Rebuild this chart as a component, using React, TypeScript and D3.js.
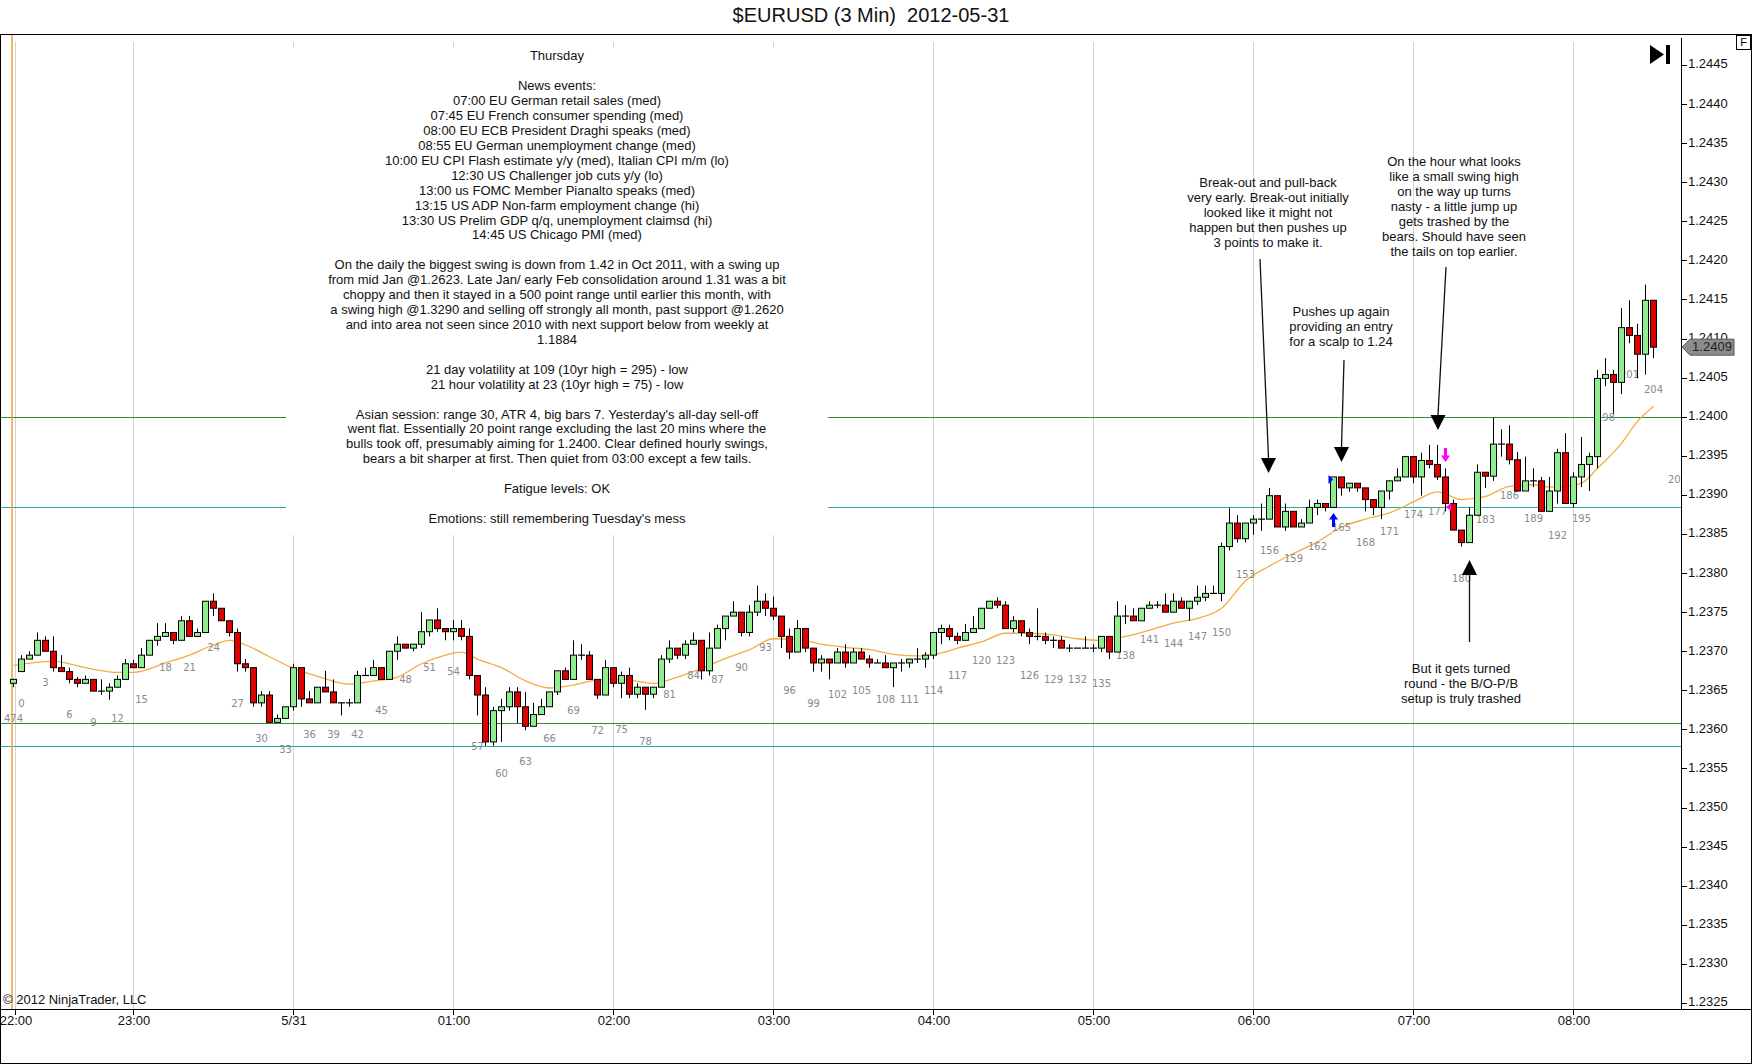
import * as d3 from 'd3';

// bar numbers as printed under the candles (first one is the last bar of the previous session)
const barNumbers = [474, ...d3.range(0, 205)];

const opens = [
  1.23659,
  1.23674, 1.23690, 1.23695, 1.23714, 1.23700, 1.23679, 1.23674, 1.23664, 1.23659, 1.23664,
  1.23649, 1.23649, 1.23654, 1.23664, 1.23684, 1.23679, 1.23695, 1.23714, 1.23719, 1.23724,
  1.23714, 1.23739, 1.23719, 1.23724, 1.23764, 1.23755, 1.23739, 1.23724, 1.23684, 1.23679,
  1.23634, 1.23644, 1.23609, 1.23614, 1.23629, 1.23679, 1.23639, 1.23634, 1.23654, 1.23648,
  1.23634, 1.23634, 1.23634, 1.23669, 1.23669, 1.23679, 1.23664, 1.23700, 1.23709, 1.23704,
  1.23709, 1.23725, 1.23740, 1.23729, 1.23725, 1.23729, 1.23719, 1.23669, 1.23644, 1.23584,
  1.23624, 1.23629, 1.23648, 1.23629, 1.23604, 1.23619, 1.23629, 1.23648, 1.23675, 1.23664,
  1.23695, 1.23695, 1.23664, 1.23644, 1.23679, 1.23659, 1.23669, 1.23645, 1.23654, 1.23645,
  1.23654, 1.23690, 1.23704, 1.23695, 1.23709, 1.23714, 1.23675, 1.23704, 1.23729, 1.23745,
  1.23750, 1.23724, 1.23750, 1.23764, 1.23755, 1.23745, 1.23719, 1.23699, 1.23729, 1.23704,
  1.23685, 1.23690, 1.23685, 1.23699, 1.23685, 1.23699, 1.23690, 1.23685, 1.23685, 1.23679,
  1.23685, 1.23685, 1.23690, 1.23690, 1.23695, 1.23724, 1.23729, 1.23719, 1.23714, 1.23724,
  1.23729, 1.23755, 1.23764, 1.23759, 1.23729, 1.23739, 1.23724, 1.23719, 1.23719, 1.23714,
  1.23714, 1.23704, 1.23704, 1.23704, 1.23704, 1.23704, 1.23719, 1.23699, 1.23745, 1.23745,
  1.23739, 1.23755, 1.23759, 1.23759, 1.23750, 1.23764, 1.23755, 1.23764, 1.23769, 1.23774,
  1.23774, 1.23834, 1.23864, 1.23844, 1.23864, 1.23869, 1.23869, 1.23899, 1.23859, 1.23879,
  1.23859, 1.23864, 1.23884, 1.23889, 1.23884, 1.23923, 1.23909, 1.23915, 1.23909, 1.23894,
  1.23884, 1.23905, 1.23918, 1.23923, 1.23949, 1.23923, 1.23944, 1.23939, 1.23923, 1.23889,
  1.23855, 1.23839, 1.23874, 1.23929, 1.23924, 1.23965, 1.23965, 1.23945, 1.23905, 1.23918,
  1.23918, 1.23879, 1.23905, 1.23954, 1.23889, 1.23923, 1.23939, 1.23949, 1.24049, 1.24054,
  1.24044, 1.24114, 1.24104, 1.24080, 1.24149,
];

const highs = [
  1.23665,
  1.23695, 1.23700, 1.23724, 1.23719, 1.23719, 1.23695, 1.23679, 1.23667, 1.23669, 1.23664,
  1.23664, 1.23659, 1.23669, 1.23690, 1.23689, 1.23704, 1.23714, 1.23736, 1.23736, 1.23724,
  1.23745, 1.23745, 1.23729, 1.23764, 1.23774, 1.23755, 1.23739, 1.23729, 1.23690, 1.23679,
  1.23649, 1.23649, 1.23619, 1.23629, 1.23684, 1.23679, 1.23649, 1.23654, 1.23675, 1.23664,
  1.23634, 1.23639, 1.23675, 1.23679, 1.23689, 1.23679, 1.23700, 1.23719, 1.23709, 1.23709,
  1.23750, 1.23740, 1.23755, 1.23729, 1.23740, 1.23740, 1.23729, 1.23669, 1.23654, 1.23629,
  1.23639, 1.23654, 1.23654, 1.23648, 1.23634, 1.23639, 1.23648, 1.23675, 1.23679, 1.23714,
  1.23709, 1.23700, 1.23664, 1.23689, 1.23679, 1.23674, 1.23679, 1.23659, 1.23654, 1.23654,
  1.23695, 1.23714, 1.23704, 1.23714, 1.23724, 1.23714, 1.23724, 1.23734, 1.23745, 1.23764,
  1.23750, 1.23759, 1.23784, 1.23774, 1.23770, 1.23745, 1.23729, 1.23740, 1.23729, 1.23704,
  1.23695, 1.23690, 1.23704, 1.23709, 1.23704, 1.23704, 1.23695, 1.23690, 1.23695, 1.23685,
  1.23690, 1.23690, 1.23704, 1.23699, 1.23724, 1.23734, 1.23734, 1.23724, 1.23735, 1.23745,
  1.23755, 1.23764, 1.23769, 1.23764, 1.23745, 1.23739, 1.23729, 1.23755, 1.23724, 1.23719,
  1.23719, 1.23709, 1.23704, 1.23719, 1.23709, 1.23719, 1.23719, 1.23764, 1.23759, 1.23755,
  1.23755, 1.23764, 1.23764, 1.23774, 1.23774, 1.23769, 1.23764, 1.23784, 1.23784, 1.23784,
  1.23839, 1.23883, 1.23874, 1.23864, 1.23874, 1.23889, 1.23909, 1.23899, 1.23889, 1.23879,
  1.23869, 1.23894, 1.23894, 1.23889, 1.23923, 1.23923, 1.23915, 1.23915, 1.23909, 1.23894,
  1.23905, 1.23918, 1.23934, 1.23949, 1.23949, 1.23954, 1.23964, 1.23964, 1.23934, 1.23894,
  1.23855, 1.23884, 1.23939, 1.23929, 1.23999, 1.23984, 1.23989, 1.23955, 1.23949, 1.23934,
  1.23923, 1.23923, 1.23959, 1.23979, 1.23929, 1.23974, 1.23954, 1.24060, 1.24075, 1.24060,
  1.24139, 1.24149, 1.24119, 1.24169, 1.24149,
];

const lows = [
  1.23654,
  1.23674, 1.23690, 1.23695, 1.23700, 1.23674, 1.23674, 1.23659, 1.23654, 1.23659, 1.23649,
  1.23644, 1.23638, 1.23654, 1.23664, 1.23679, 1.23679, 1.23695, 1.23707, 1.23719, 1.23709,
  1.23714, 1.23719, 1.23719, 1.23724, 1.23745, 1.23739, 1.23719, 1.23674, 1.23674, 1.23629,
  1.23629, 1.23609, 1.23609, 1.23614, 1.23624, 1.23629, 1.23634, 1.23634, 1.23648, 1.23634,
  1.23618, 1.23629, 1.23634, 1.23669, 1.23669, 1.23664, 1.23664, 1.23689, 1.23704, 1.23700,
  1.23704, 1.23719, 1.23725, 1.23714, 1.23714, 1.23714, 1.23664, 1.23618, 1.23579, 1.23579,
  1.23584, 1.23624, 1.23608, 1.23599, 1.23604, 1.23619, 1.23629, 1.23644, 1.23664, 1.23664,
  1.23689, 1.23664, 1.23639, 1.23644, 1.23654, 1.23640, 1.23640, 1.23640, 1.23625, 1.23640,
  1.23654, 1.23685, 1.23690, 1.23690, 1.23709, 1.23664, 1.23669, 1.23704, 1.23714, 1.23745,
  1.23719, 1.23719, 1.23745, 1.23745, 1.23740, 1.23704, 1.23690, 1.23699, 1.23699, 1.23674,
  1.23674, 1.23664, 1.23685, 1.23679, 1.23685, 1.23690, 1.23679, 1.23685, 1.23679, 1.23654,
  1.23674, 1.23679, 1.23685, 1.23679, 1.23690, 1.23709, 1.23714, 1.23709, 1.23714, 1.23724,
  1.23729, 1.23755, 1.23755, 1.23729, 1.23724, 1.23719, 1.23709, 1.23714, 1.23709, 1.23704,
  1.23704, 1.23699, 1.23704, 1.23704, 1.23699, 1.23699, 1.23690, 1.23699, 1.23735, 1.23739,
  1.23739, 1.23755, 1.23755, 1.23750, 1.23750, 1.23755, 1.23739, 1.23759, 1.23764, 1.23774,
  1.23764, 1.23829, 1.23839, 1.23839, 1.23849, 1.23854, 1.23869, 1.23859, 1.23854, 1.23859,
  1.23859, 1.23864, 1.23874, 1.23879, 1.23884, 1.23899, 1.23904, 1.23904, 1.23879, 1.23874,
  1.23869, 1.23894, 1.23918, 1.23923, 1.23915, 1.23899, 1.23934, 1.23919, 1.23879, 1.23855,
  1.23834, 1.23839, 1.23874, 1.23909, 1.23918, 1.23949, 1.23939, 1.23905, 1.23905, 1.23910,
  1.23879, 1.23879, 1.23889, 1.23889, 1.23884, 1.23910, 1.23905, 1.23934, 1.24039, 1.24004,
  1.24029, 1.24094, 1.24049, 1.24054, 1.24075,
];

const closes = [
  1.23664,
  1.23690, 1.23695, 1.23714, 1.23700, 1.23679, 1.23674, 1.23664, 1.23659, 1.23664, 1.23649,
  1.23649, 1.23654, 1.23664, 1.23684, 1.23679, 1.23695, 1.23714, 1.23719, 1.23724, 1.23714,
  1.23739, 1.23719, 1.23724, 1.23764, 1.23755, 1.23739, 1.23724, 1.23684, 1.23679, 1.23634,
  1.23644, 1.23609, 1.23614, 1.23629, 1.23679, 1.23639, 1.23634, 1.23654, 1.23648, 1.23634,
  1.23634, 1.23634, 1.23669, 1.23669, 1.23679, 1.23664, 1.23700, 1.23709, 1.23704, 1.23709,
  1.23725, 1.23740, 1.23729, 1.23725, 1.23729, 1.23719, 1.23669, 1.23644, 1.23584, 1.23624,
  1.23629, 1.23648, 1.23629, 1.23604, 1.23619, 1.23629, 1.23648, 1.23675, 1.23664, 1.23695,
  1.23695, 1.23664, 1.23644, 1.23679, 1.23659, 1.23669, 1.23645, 1.23654, 1.23645, 1.23654,
  1.23690, 1.23704, 1.23695, 1.23709, 1.23714, 1.23675, 1.23704, 1.23729, 1.23745, 1.23750,
  1.23724, 1.23750, 1.23764, 1.23755, 1.23745, 1.23719, 1.23699, 1.23729, 1.23704, 1.23685,
  1.23690, 1.23685, 1.23699, 1.23685, 1.23699, 1.23690, 1.23685, 1.23685, 1.23679, 1.23685,
  1.23685, 1.23690, 1.23690, 1.23695, 1.23724, 1.23729, 1.23719, 1.23714, 1.23724, 1.23729,
  1.23755, 1.23764, 1.23759, 1.23729, 1.23739, 1.23724, 1.23719, 1.23719, 1.23714, 1.23714,
  1.23704, 1.23704, 1.23704, 1.23704, 1.23704, 1.23719, 1.23699, 1.23745, 1.23745, 1.23739,
  1.23755, 1.23759, 1.23759, 1.23750, 1.23764, 1.23755, 1.23764, 1.23769, 1.23774, 1.23774,
  1.23834, 1.23864, 1.23844, 1.23864, 1.23869, 1.23869, 1.23899, 1.23859, 1.23879, 1.23859,
  1.23864, 1.23884, 1.23889, 1.23884, 1.23923, 1.23909, 1.23915, 1.23909, 1.23894, 1.23884,
  1.23905, 1.23918, 1.23923, 1.23949, 1.23923, 1.23944, 1.23939, 1.23923, 1.23889, 1.23855,
  1.23839, 1.23874, 1.23929, 1.23924, 1.23965, 1.23965, 1.23945, 1.23905, 1.23918, 1.23918,
  1.23879, 1.23905, 1.23954, 1.23889, 1.23923, 1.23939, 1.23949, 1.24049, 1.24054, 1.24044,
  1.24114, 1.24104, 1.24080, 1.24149, 1.24089,
];

// a bar number printed past the last bar, cut off by the price axis
const trailingLabelBar = 207;
const trailingLabelPrice = 1.2396;

// orange moving average, read at sample bars
const emaBars = [
  -1, 4, 8, 12, 14, 18, 21, 24, 26, 28, 31, 34, 37, 41, 44, 47, 50, 53, 55, 57,
  60, 63, 66, 69, 72, 75, 79, 82, 85, 88, 91, 94, 97, 100, 103, 106, 109, 112, 115, 117,
  120, 123, 126, 129, 132, 135, 138, 141, 144, 147, 150, 153, 156, 159, 162, 165, 168, 171, 174, 177,
  180, 183, 186, 189, 191, 193, 195, 197, 200, 202, 204,
];
const emaPrices = [
  1.23682, 1.23687, 1.23679, 1.23673, 1.23673, 1.23685, 1.23695, 1.23708, 1.23714, 1.23708,
  1.23693, 1.23678, 1.23668, 1.23658, 1.23662, 1.23667, 1.23684, 1.23695, 1.23699, 1.23690,
  1.23679, 1.23662, 1.23653, 1.23657, 1.23663, 1.23664, 1.23659, 1.23667, 1.23678, 1.23691,
  1.23702, 1.23716, 1.23715, 1.23709, 1.23705, 1.23702, 1.23696, 1.23694, 1.23698, 1.23704,
  1.23712, 1.23723, 1.23723, 1.23721, 1.23716, 1.23714, 1.23719, 1.23727, 1.23736, 1.23742,
  1.23755, 1.23790, 1.23809, 1.23825, 1.23840, 1.23859, 1.23869, 1.23877, 1.23891, 1.23904,
  1.23894, 1.23898, 1.23911, 1.23913, 1.23910, 1.23911, 1.23915, 1.23934, 1.23966, 1.23994,
  1.24013,
];

const timeTickBars = [-0.75, 14, 34, 54, 74, 94, 114, 134, 154, 174, 194];
const timeTickLabels = ['22:00', '23:00', '5/31', '01:00', '02:00', '03:00', '04:00', '05:00', '06:00', '07:00', '08:00'];

const levelPrices = [1.24, 1.23884, 1.23608, 1.23579];
const levelColors = ['#2f8a36', '#2aa8a8', '#2f8a36', '#2aa8a8'];

const lastPrice = '1.2409';

const notesText = [
  'Thursday',
  '',
  'News events:',
  '07:00 EU German retail sales (med)',
  '07:45 EU French consumer spending (med)',
  '08:00 EU ECB President Draghi speaks (med)',
  '08:55 EU German unemployment change (med)',
  '10:00 EU CPI Flash estimate y/y (med), Italian CPI m/m (lo)',
  '12:30 US Challenger job cuts y/y (lo)',
  '13:00 us FOMC Member Pianalto speaks (med)',
  '13:15 US ADP Non-farm employment change (hi)',
  '13:30 US Prelim GDP q/q, unemployment claimsd (hi)',
  '14:45 US Chicago PMI (med)',
  '',
  'On the daily the biggest swing is down from 1.42 in Oct 2011, with a swing up',
  'from mid Jan @1.2623. Late Jan/ early Feb consolidation around 1.31 was a bit',
  'choppy and then it stayed in a 500 point range until earlier this month, with',
  'a swing high @1.3290 and selling off strongly all month, past support @1.2620',
  'and into area not seen since 2010 with next support below from weekly at',
  '1.1884',
  '',
  '21 day volatility at 109 (10yr high = 295) - low',
  '21 hour volatility at 23 (10yr high = 75) - low',
  '',
  "Asian session: range 30, ATR 4, big bars 7. Yesterday's all-day sell-off",
  'went flat. Essentially 20 point range excluding the last 20 mins where the',
  'bulls took off, presumably aiming for 1.2400. Clear defined hourly swings,',
  'bears a bit sharper at first. Then quiet from 03:00 except a few tails.',
  '',
  'Fatigue levels: OK',
  '',
  "Emotions: still remembering Tuesday's mess",
];

const note1 = ['Break-out and pull-back', 'very early. Break-out initially', 'looked like it might not', 'happen but then pushes up', '3 points to make it.'];
const note2 = ['Pushes up again', 'providing an entry', 'for a scalp to 1.24'];
const note3 = ['On the hour what looks', 'like a small swing high', 'on the way up turns', 'nasty - a little jump up', 'gets trashed by the', 'bears. Should have seen', 'the tails on top earlier.'];
const note4 = ['But it gets turned', 'round - the B/O-P/B', 'setup is truly trashed'];

const W = 1752;
const H = 1064;
const TOP = 34;
const BOTTOM = 1009;
const AXIS_X = 1681;
const FONT = "'Liberation Sans', Arial, sans-serif";
const LABEL_FONT = "'DejaVu Sans', Verdana, sans-serif";

const x = d3.scaleLinear().domain([-1, 204]).range([13, 1653]);
const y = d3.scaleLinear().domain([1.2325, 1.2445]).range([1003, 65]);

function Arrow({ x1, y1, x2, y2 }: { x1: number; y1: number; x2: number; y2: number }) {
  // head at (x2, y2)
  const dir = y2 > y1 ? 1 : -1;
  const base = y2 - dir * 15;
  return (
    <g>
      <line x1={x1} y1={y1} x2={x2} y2={base} stroke="#111" strokeWidth={1.3} />
      <polygon points={`${x2 - 7.5},${base} ${x2 + 7.5},${base} ${x2},${y2}`} fill="#000" />
    </g>
  );
}

function Note({ lines, cx, top }: { lines: string[]; cx: number; top: number }) {
  return (
    <text fontFamily={FONT} fontSize={13} fill="#111" textAnchor="middle">
      {lines.map((l, i) => (
        <tspan key={i} x={cx} y={top + i * 15} dominantBaseline="middle">
          {l}
        </tspan>
      ))}
    </text>
  );
}

export default function App() {
  const ema = d3
    .line<number>()
    .x((_, i) => x(emaBars[i]) + 0.5)
    .y((d) => y(d))
    .curve(d3.curveMonotoneX)(emaPrices);

  const priceTicks = y.ticks(24);
  const fmt = d3.format('.4f');
  const lastY = y(closes[closes.length - 1]);

  return (
    <svg
      width={W}
      height={H}
      style={{ position: 'absolute', left: 0, top: 0, background: '#fff' }}
    >
      <defs>
        <clipPath id="plotClip">
          <rect x={0} y={TOP} width={AXIS_X} height={BOTTOM - TOP} />
        </clipPath>
      </defs>
      <rect x={0} y={0} width={W} height={H} fill="#fff" />
      <text x={871} y={17} textAnchor="middle" dominantBaseline="middle" fontFamily={FONT} fontSize={20} fill="#111">
        {'$EURUSD (3 Min)\u00a0 2012-05-31'}
      </text>

      {/* hour grid */}
      {timeTickBars.map((b, i) => (
        <line key={i} x1={x(b) + 0.5} x2={x(b) + 0.5} y1={42} y2={BOTTOM} stroke="#d3d3d3" />
      ))}

      {/* horizontal levels */}
      {levelPrices.map((p, i) => (
        <line key={i} x1={0} x2={AXIS_X} y1={Math.round(y(p)) + 0.5} y2={Math.round(y(p)) + 0.5} stroke={levelColors[i]} />
      ))}

      {/* session start */}
      <line x1={12} x2={12} y1={TOP} y2={BOTTOM} stroke="#f0a030" strokeWidth={1.5} />

      {/* daily notes box */}
      <rect x={286} y={48} width={542} height={487} fill="#fff" />
      <text fontFamily={FONT} fontSize={13} fill="#111" textAnchor="middle">
        {notesText.map((l, i) => (
          <tspan key={i} x={557} y={57 + i * 14.92} dominantBaseline="middle">
            {l}
          </tspan>
        ))}
      </text>

      {/* moving average */}
      <path d={ema ?? ''} fill="none" stroke="#f2ad3e" strokeWidth={1.3} />

      {/* bar numbers */}
      <g fontFamily={LABEL_FONT} fontSize={10} fill="#8a8a8a" textAnchor="middle" clipPath="url(#plotClip)">
        {barNumbers.map((n, k) =>
          n % 3 === 0 ? (
            <text key={k} x={x(k - 1) + 0.5} y={y(lows[k]) + 32} dominantBaseline="middle">
              {n}
            </text>
          ) : null
        )}
        <text x={x(trailingLabelBar) + 0.5} y={y(trailingLabelPrice) + 32} dominantBaseline="middle">
          {trailingLabelBar}
        </text>
      </g>

      {/* candles */}
      {opens.map((o, k) => {
        const c = closes[k];
        const cx = x(k - 1) + 0.5;
        const yTop = y(Math.max(o, c));
        const yBot = y(Math.min(o, c));
        const up = c >= o;
        return (
          <g key={k}>
            <line x1={cx} x2={cx} y1={y(highs[k])} y2={y(lows[k])} stroke="#000" />
            {yBot - yTop < 1.5 ? (
              <line x1={cx - 3.5} x2={cx + 3.5} y1={yTop} y2={yTop} stroke="#000" strokeWidth={1.2} />
            ) : (
              <rect x={cx - 3} y={yTop} width={6} height={yBot - yTop} fill={up ? '#90ee90' : '#e00000'} stroke="#000" />
            )}
          </g>
        );
      })}

      {/* trade markers */}
      <polygon points="1328.5,475 1333,479.5 1328.5,484" fill="#0000ff" />
      <polygon points="1333.5,513 1338,519.5 1335,519.5 1335,527 1332,527 1332,519.5 1329,519.5" fill="#0000ff" />
      <polygon points="1445.5,462 1450,455.5 1447,455.5 1447,448 1444,448 1444,455.5 1441,455.5" fill="#ff00ff" />
      <polygon points="1451,503 1446,507 1451,511" fill="#ff00ff" />

      {/* annotations */}
      <Note lines={note1} cx={1268} top={184} />
      <Arrow x1={1260} y1={259} x2={1268.5} y2={473} />
      <Note lines={note2} cx={1341} top={313} />
      <Arrow x1={1344} y1={360} x2={1341.5} y2={462} />
      <Note lines={note3} cx={1454} top={163} />
      <Arrow x1={1446} y1={267} x2={1438} y2={430} />
      <Note lines={note4} cx={1461} top={670} />
      <Arrow x1={1469.5} y1={642} x2={1469.5} y2={560} />

      {/* go-to-end icon */}
      <polygon points="1650,45 1664,54.5 1650,64" fill="#000" />
      <rect x={1666} y={45} width={4} height={19} fill="#000" />

      {/* price axis */}
      <line x1={AXIS_X + 0.5} x2={AXIS_X + 0.5} y1={38} y2={BOTTOM} stroke="#000" />
      {priceTicks.map((p, i) => (
        <g key={i}>
          <line x1={AXIS_X} x2={AXIS_X + 6} y1={Math.round(y(p)) + 0.5} y2={Math.round(y(p)) + 0.5} stroke="#000" />
          <text x={AXIS_X + 7} y={y(p)} dominantBaseline="middle" fontFamily={FONT} fontSize={13} fill="#111">
            {fmt(p)}
          </text>
        </g>
      ))}
      <polygon
        points={`${AXIS_X + 1},${lastY} ${AXIS_X + 9},${lastY - 8} 1734,${lastY - 8} 1734,${lastY + 8} ${AXIS_X + 9},${lastY + 8}`}
        fill="#8c8c8c"
        stroke="#555"
      />
      <text x={1712} y={lastY + 0.5} textAnchor="middle" dominantBaseline="middle" fontFamily={FONT} fontSize={13} fill="#222">
        {lastPrice}
      </text>

      {/* time axis */}
      <line x1={0} x2={W} y1={BOTTOM + 0.5} y2={BOTTOM + 0.5} stroke="#000" />
      {timeTickBars.map((b, i) => (
        <g key={i}>
          <line x1={x(b) + 0.5} x2={x(b) + 0.5} y1={BOTTOM} y2={BOTTOM + 6} stroke="#000" />
          <text x={x(b) + 1} y={1022} textAnchor="middle" dominantBaseline="middle" fontFamily={FONT} fontSize={13} fill="#111">
            {timeTickLabels[i]}
          </text>
        </g>
      ))}

      <text x={3} y={1001} dominantBaseline="middle" fontFamily={FONT} fontSize={13} fill="#111">
        © 2012 NinjaTrader, LLC
      </text>

      {/* frame */}
      <rect x={0.5} y={TOP + 0.5} width={W - 1} height={H - TOP - 1} fill="none" stroke="#000" />
      <rect x={1736.5} y={35.5} width={14} height={14} fill="#fff" stroke="#000" />
      <text x={1743.5} y={43} textAnchor="middle" dominantBaseline="middle" fontFamily={FONT} fontSize={11} fill="#000">
        F
      </text>
    </svg>
  );
}
